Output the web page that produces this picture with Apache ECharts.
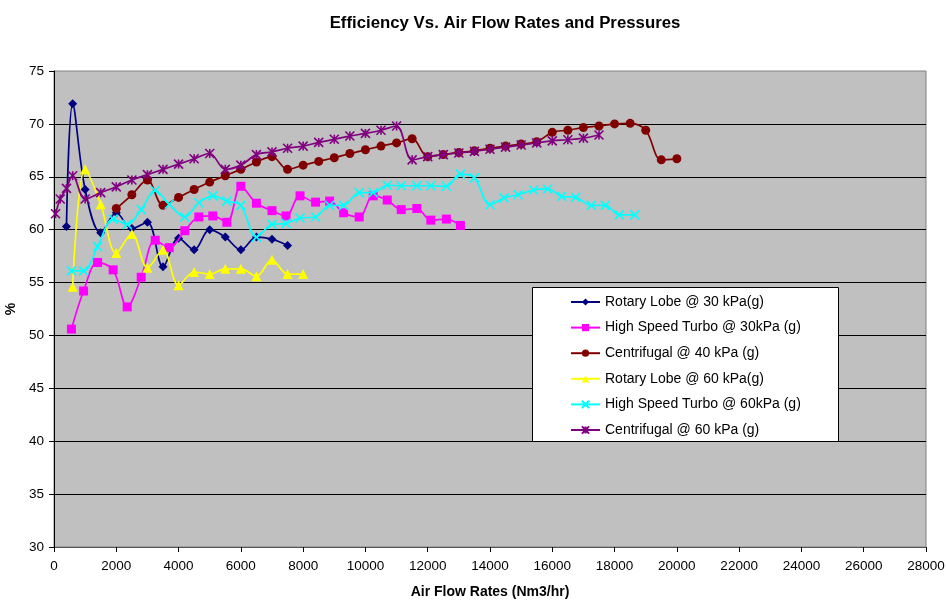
<!DOCTYPE html>
<html>
<head>
<meta charset="utf-8">
<script src="https://cdn.jsdelivr.net/npm/echarts@6/dist/echarts.min.js"></script>
<style>html,body{margin:0;padding:0;background:#fff}#c{width:946px;height:600px}</style>
</head>
<body>
<div id="c"></div>
<script>
const seriesNames = ['Rotary Lobe @ 30 kPa(g)','High Speed Turbo @ 30kPa (g)','Centrifugal @ 40 kPa (g)','Rotary Lobe @ 60 kPa(g)','High Speed Turbo @ 60kPa (g)','Centrifugal @ 60 kPa (g)'];

const rotary30X = [400,600,1000,1500,2000,2500,3000,3500,4000,4500,5000,5500,6000,6500,7000,7500];
const rotary30Y = [60.3,71.9,63.8,59.7,61.6,60.1,60.7,56.5,59.2,58.1,60.0,59.3,58.1,59.3,59.1,58.5];

const turbo30X = [560,950,1400,1900,2350,2800,3250,3700,4200,4650,5100,5550,6000,6500,7000,7450,7900,8400,8850,9300,9800,10250,10700,11150,11650,12100,12600,13050];
const turbo30Y = [50.6,54.2,56.9,56.2,52.7,55.5,59.0,58.3,59.9,61.2,61.3,60.7,64.1,62.5,61.8,61.3,63.2,62.6,62.7,61.6,61.2,63.2,62.8,61.9,62.0,60.9,61.0,60.4];

const centri40X = [2000,2500,3000,3500,4000,4500,5000,5500,6000,6500,7000,7500,8000,8500,9000,9500,10000,10500,11000,11500,12000,12500,13000,13500,14000,14500,15000,15500,16000,16500,17000,17500,18000,18500,19000,19500,20000];
const centri40Y = [62.0,63.3,64.7,62.3,63.05,63.8,64.5,65.1,65.7,66.4,66.9,65.7,66.1,66.45,66.8,67.2,67.55,67.9,68.2,68.6,66.9,67.1,67.3,67.45,67.7,67.9,68.1,68.3,69.2,69.4,69.65,69.8,70.0,70.05,69.4,66.6,66.7];

const rotary60X = [600,1000,1500,2000,2500,3000,3500,4000,4500,5000,5500,6000,6500,7000,7500,8000];
const rotary60Y = [54.6,65.7,62.4,57.8,59.6,56.4,58.1,54.75,56.0,55.8,56.3,56.3,55.6,57.15,55.8,55.8];

const turbo60X = [560,950,1400,1900,2350,2800,3250,3700,4200,4650,5100,5550,6000,6500,7000,7450,7900,8400,8850,9300,9800,10250,10700,11150,11650,12100,12600,13050,13500,14000,14450,14900,15400,15850,16300,16750,17250,17700,18150,18650];
const turbo60Y = [56.1,56.1,58.4,61.0,60.5,61.9,63.7,62.4,61.2,62.55,63.2,62.7,62.3,59.3,60.5,60.6,61.1,61.2,62.3,62.3,63.5,63.5,64.2,64.15,64.15,64.15,64.1,65.25,64.9,62.35,63.0,63.3,63.75,63.85,63.15,63.05,62.3,62.3,61.4,61.4];

const centri60X = [50,200,400,600,1000,1500,2000,2500,3000,3500,4000,4500,5000,5500,6000,6500,7000,7500,8000,8500,9000,9500,10000,10500,11000,11500,12000,12500,13000,13500,14000,14500,15000,15500,16000,16500,17000,17500];
const centri60Y = [61.5,62.9,63.9,65.1,62.9,63.5,64.05,64.7,65.2,65.7,66.2,66.7,67.2,65.7,66.1,67.1,67.35,67.7,67.9,68.25,68.55,68.85,69.1,69.4,69.8,66.6,66.9,67.1,67.25,67.4,67.6,67.8,68.0,68.2,68.4,68.5,68.65,68.95];

const xTicks = ['0','2000','4000','6000','8000','10000','12000','14000','16000','18000','20000','22000','24000','26000','28000'];
const yTicks = ['30','35','40','45','50','55','60','65','70','75'];

const FONT = "'Liberation Sans', Arial, sans-serif";
function pairs(xs, ys){ return xs.map((x,i)=>[x, ys[i]]); }

const xMark = 'path://M0,0L10,10M10,0L0,10';
const starMark = 'path://M0,0L10,10M10,0L0,10M5,0L5,10';

const styles = [
  {color:'#000080', symbol:'diamond', size:9},
  {color:'#FF00FF', symbol:'rect', size:9},
  {color:'#800000', symbol:'circle', size:9},
  {color:'#FFFF00', symbol:'triangle', size:10},
  {color:'#00FFFF', symbol:xMark, size:9, stroke:true},
  {color:'#800080', symbol:starMark, size:9, stroke:true}
];
const dataSets = [
  pairs(rotary30X, rotary30Y),
  pairs(turbo30X, turbo30Y),
  pairs(centri40X, centri40Y),
  pairs(rotary60X, rotary60Y),
  pairs(turbo60X, turbo60Y),
  pairs(centri60X, centri60Y)
];

const series = dataSets.map((d,i)=>({
  name: seriesNames[i],
  type: 'line',
  data: d,
  smooth: 0.35,
  symbol: styles[i].symbol,
  symbolSize: styles[i].size,
  showAllSymbol: true,
  lineStyle: {color: styles[i].color, width: 1.7},
  itemStyle: styles[i].stroke
    ? {color: styles[i].color, borderColor: styles[i].color, borderWidth: 1.6}
    : {color: styles[i].color, borderWidth: 0},
  emphasis: {disabled: true},
  z: 2 + i
}));

const chart = echarts.init(document.getElementById('c'), null, {renderer:'canvas'});
chart.setOption({
  animation: false,
  backgroundColor: '#ffffff',
  textStyle: {fontFamily: FONT},
  title: {
    text: 'Efficiency Vs. Air Flow Rates and Pressures',
    left: 500, top: 10, textAlign: 'center',
    textStyle: {fontFamily: FONT, fontSize: 16.8, fontWeight: 'bold', color: '#000'}
  },
  grid: {
    left: 54, right: 20, top: 71, bottom: 53,
    show: true, backgroundColor: '#C0C0C0', borderColor: '#808080', borderWidth: 1,
    containLabel: false, outerBoundsMode: 'none'
  },
  xAxis: {
    type: 'value', min: 0, max: 28000, interval: 2000,
    name: 'Air Flow Rates (Nm3/hr)', nameLocation: 'middle', nameGap: 38,
    nameTextStyle: {fontFamily: FONT, fontSize: 14, fontWeight: 'bold', color: '#000'},
    axisLine: {show: true, lineStyle: {color: '#555555', width: 1}},
    axisTick: {show: true, length: 5, lineStyle: {color: '#000'}},
    axisLabel: {fontFamily: FONT, fontSize: 13.5, color: '#000', margin: 12,
      formatter: (v)=> xTicks[Math.round(v/2000)] ?? ''},
    splitLine: {show: false}
  },
  yAxis: {
    type: 'value', min: 30, max: 75, interval: 5,
    name: '%', nameLocation: 'middle', nameGap: 34,
    nameTextStyle: {fontFamily: FONT, fontSize: 14, fontWeight: 'bold', color: '#000'},
    axisLine: {show: true, lineStyle: {color: '#000', width: 1}},
    axisTick: {show: true, length: 5, lineStyle: {color: '#000'}},
    axisLabel: {fontFamily: FONT, fontSize: 13.5, color: '#000', margin: 10,
      formatter: (v)=> yTicks[Math.round((v-30)/5)] ?? ''},
    splitLine: {show: true, showMinLine: false, showMaxLine: false, lineStyle: {color: '#000', width: 1}}
  },
  legend: {
    orient: 'vertical', left: 570, top: 295,
    itemWidth: 29, itemHeight: 9, itemGap: 11.6,
    textStyle: {fontFamily: FONT, fontSize: 14, color: '#000'},
    data: seriesNames, selectedMode: false, z: 10,
    padding: 0
  },
  graphic: [{
    type: 'rect', z: 9, left: 532, top: 287,
    shape: {width: 306, height: 154},
    style: {fill: '#ffffff', stroke: '#000', lineWidth: 1}
  }],
  series: series
});
</script>
</body>
</html>
